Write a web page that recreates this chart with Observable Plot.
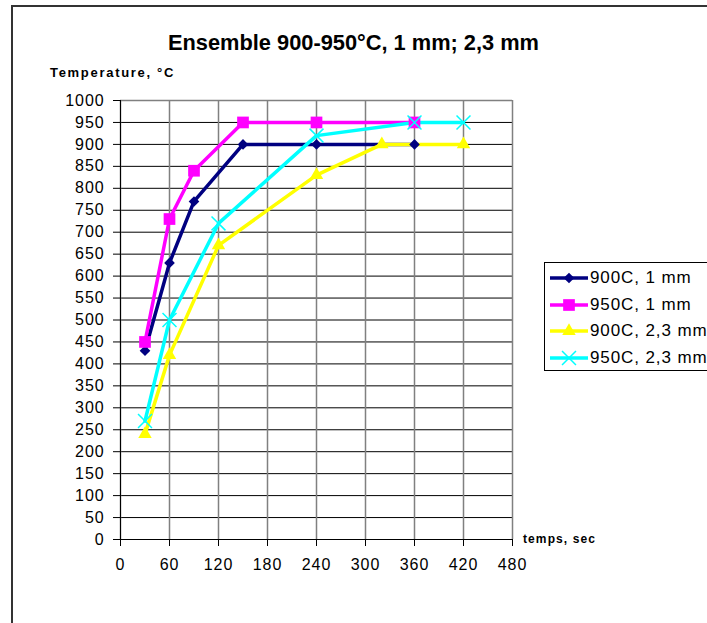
<!DOCTYPE html>
<html>
<head>
<meta charset="utf-8">
<script src="https://cdn.jsdelivr.net/npm/d3@7"></script>
<script src="https://cdn.jsdelivr.net/npm/@observablehq/plot@0.6"></script>
<style>
  html, body { margin: 0; padding: 0; background: #fff; overflow: hidden; }
  #wrap { position: relative; width: 707px; height: 623px; overflow: hidden; font-family: "Liberation Sans", Arial, sans-serif; color: #000; }
  #frame { position: absolute; left: 11px; top: 5px; width: 800px; height: 800px; border: 2px solid #333; }
  #title { position: absolute; left: 0; top: 30px; width: 707px; text-align: center; font-weight: bold; font-size: 21.8px; line-height: 26px; }
  #ylab { position: absolute; left: 50px; top: 65px; font-weight: bold; font-size: 13px; line-height: 16px; letter-spacing: 1.7px; }
  #xlab { position: absolute; left: 523px; top: 531px; font-weight: bold; font-size: 12px; line-height: 16px; letter-spacing: 1.1px; }
  #chart { position: absolute; left: 0; top: 0; }
  #legend { position: absolute; left: 544px; top: 262px; width: 200px; height: 107px; border: 1px solid #000; background: #fff; }
</style>
</head>
<body>
<div id="wrap">
  <div id="frame"></div>
  <div id="chart"></div>
  <div id="title">Ensemble 900-950°C, 1 mm; 2,3 mm</div>
  <div id="ylab">Temperature, °C</div>
  <div id="xlab">temps, sec</div>
  <div id="legend"></div>
</div>
<script>
// ---- data ----
const seriesNames = ["900C, 1 mm", "950C, 1 mm", "900C, 2,3 mm", "950C, 2,3 mm"];
const s1x = [30, 60, 90, 150, 240, 360];
const s1y = [430, 630, 770, 900, 900, 900];
const s2x = [30, 60, 90, 150, 240, 360];
const s2y = [450, 730, 840, 950, 950, 950];
const s3x = [30, 60, 120, 240, 320, 420];
const s3y = [240, 420, 670, 830, 900, 900];
const s4x = [30, 60, 120, 240, 360, 420];
const s4y = [270, 500, 720, 920, 950, 950];
const xTicks = [0, 60, 120, 180, 240, 300, 360, 420, 480];
const yTicks = [0, 50, 100, 150, 200, 250, 300, 350, 400, 450, 500, 550, 600, 650, 700, 750, 800, 850, 900, 950, 1000];

const colors = ["#000080", "#ff00ff", "#ffff00", "#00ffff"];
const symbols = ["diamond2", "square", "triangle", "times"];
const radii = [4.8, 6.6, 5.0, 6.4];

const xs = [s1x, s2x, s3x, s4x];
const ys = [s1y, s2y, s3y, s4y];
const series = seriesNames.map((name, i) => xs[i].map((x, j) => ({x, y: ys[i][j], name})));

const lineMarks = series.map((d, i) => Plot.line(d, {x: "x", y: "y", stroke: colors[i], strokeWidth: 3.5}));
const dotMarks = series.map((d, i) => symbols[i] === "times"
  ? Plot.dot(d, {x: "x", y: "y", symbol: "times", stroke: colors[i], strokeWidth: 1.5, r: radii[i]})
  : Plot.dot(d, {x: "x", y: "y", symbol: symbols[i], fill: colors[i], stroke: "none", r: radii[i]}));

const chart = Plot.plot({
  width: 707,
  height: 623,
  marginLeft: 120,
  marginRight: 195,
  marginTop: 100,
  marginBottom: 84,
  x: {domain: [0, 480]},
  y: {domain: [0, 1000]},
  style: {fontFamily: "'Liberation Sans', Arial, sans-serif", background: "transparent", color: "#000", letterSpacing: "0.9px"},
  marks: [
    Plot.ruleY(yTicks, {stroke: "#000", strokeWidth: 1}),
    Plot.ruleX(xTicks, {stroke: "#808080", strokeWidth: 1.5}),
    Plot.ruleY([1000], {stroke: "#808080", strokeWidth: 1.5}),
    Plot.ruleX([0], {stroke: "#000", strokeWidth: 1}),
    Plot.ruleY([0], {stroke: "#000", strokeWidth: 1}),
    Plot.axisX({ticks: xTicks, tickSize: 7, tickPadding: 12, fontSize: 16, label: null, tickFormat: d => String(d)}),
    Plot.axisY({ticks: yTicks, tickSize: 7, tickPadding: 9, fontSize: 16, label: null, tickFormat: d => String(d)}),
    ...lineMarks,
    ...dotMarks
  ]
});
document.getElementById("chart").appendChild(chart);

// ---- legend ----
const leg = d3.select("#legend");
const symMap = {diamond2: d3.symbolDiamond2, square: d3.symbolSquare, triangle: d3.symbolTriangle, times: d3.symbolTimes};
seriesNames.forEach((name, i) => {
  const row = leg.append("div")
    .style("position", "absolute").style("left", "5px").style("top", (3 + i * 26.7) + "px")
    .style("height", "24px").style("display", "flex").style("align-items", "center")
    .style("white-space", "nowrap");
  const svg = row.append("svg").attr("width", 40).attr("height", 24);
  svg.append("line").attr("x1", 0).attr("x2", 38).attr("y1", 12).attr("y2", 12)
    .attr("stroke", colors[i]).attr("stroke-width", 3.5);
  const p = svg.append("path").attr("transform", "translate(19,12)")
    .attr("d", d3.symbol(symMap[symbols[i]], Math.PI * radii[i] * radii[i])());
  if (symbols[i] === "times") p.attr("fill", "none").attr("stroke", colors[i]).attr("stroke-width", 1.5);
  else p.attr("fill", colors[i]);
  row.append("span").text(name).style("font-size", "17px").style("letter-spacing", "0.9px").style("margin-left", "0px");
});
</script>
</body>
</html>
